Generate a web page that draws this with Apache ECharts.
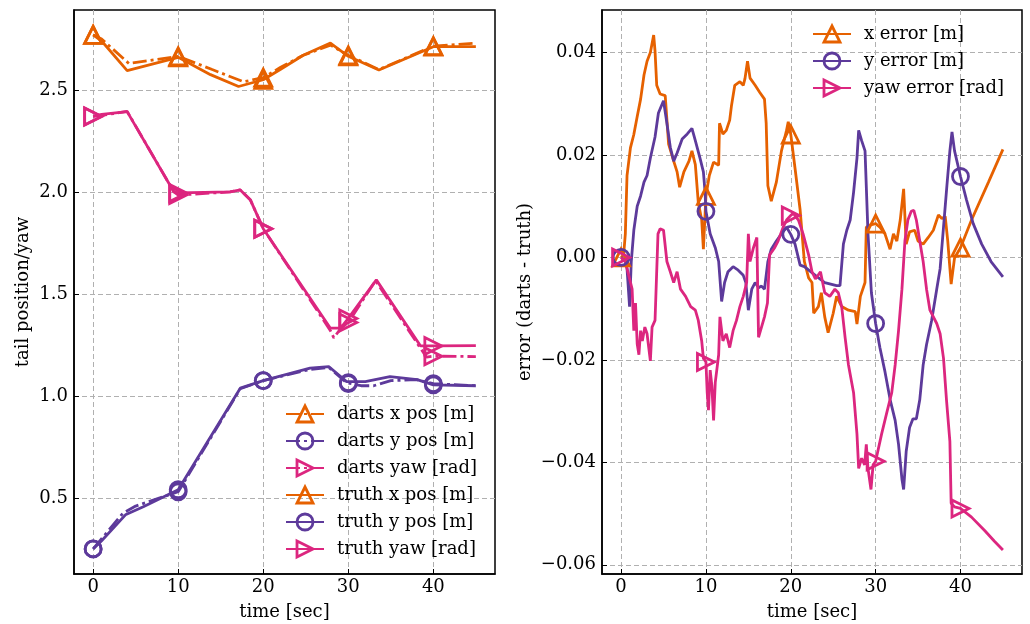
<!DOCTYPE html>
<html>
<head>
<meta charset="utf-8">
<script src="https://cdn.jsdelivr.net/npm/echarts@6/dist/echarts.min.js"></script>
<style>
  html, body { margin: 0; padding: 0; background: #fff; }
  #chart { width: 1030px; height: 624px; }
</style>
</head>
<body>
<div id="chart"></div>
<script>
// left panel: tail position / yaw, [time, value]
const dartsX = [[0, 2.77], [1, 2.75], [4.2, 2.63], [10, 2.665], [14, 2.6], [17.7, 2.54], [20, 2.56], [22, 2.61], [24.7, 2.67], [27.9, 2.72], [30, 2.67], [33.6, 2.6], [40, 2.715], [45, 2.73]]
const dartsY = [[0, 0.25], [1, 0.3], [3.5, 0.425], [5, 0.46], [10, 0.53], [17.3, 1.035], [20, 1.075], [25.5, 1.13], [27.7, 1.14], [29.8, 1.065], [30, 1.06], [31.5, 1.05], [33, 1.05], [35, 1.075], [38, 1.08], [40, 1.06], [45, 1.05]]
const dartsYaw = [[0, 2.37], [1, 2.375], [4, 2.395], [9.5, 2.0], [10, 1.985], [16.1, 2.0], [17.3, 2.01], [18.5, 1.96], [20, 1.82], [27.9, 1.32], [28.3, 1.285], [29.1, 1.33], [30, 1.36], [33.2, 1.565], [39.2, 1.19], [40, 1.195], [45, 1.193]]
const truthX = [[0, 2.77], [1, 2.74], [4, 2.595], [10, 2.66], [13.8, 2.575], [17.1, 2.517], [20, 2.55], [22, 2.6], [24.7, 2.67], [27.9, 2.73], [30, 2.665], [33.6, 2.598], [40, 2.712], [45, 2.712]]
const truthY = [[0, 0.25], [1, 0.29], [3.8, 0.417], [5.9, 0.457], [10, 0.54], [17.3, 1.038], [20, 1.075], [25.5, 1.136], [27.7, 1.144], [29.8, 1.07], [30, 1.065], [32, 1.07], [34.9, 1.095], [38.1, 1.08], [40, 1.054], [45, 1.05]]
const truthYaw = [[0, 2.37], [1, 2.38], [4, 2.394], [9.5, 2.0], [10, 1.995], [16.1, 2.0], [17.3, 2.01], [18.5, 1.96], [20, 1.82], [27.9, 1.332], [29.1, 1.332], [30, 1.38], [33.3, 1.569], [38.5, 1.245], [40, 1.245], [45, 1.247]]

// right panel: errors (darts - truth), [time, value]
const xErr = [[0, 0], [0.3, 0.0005], [0.5, 0.0046], [0.7, 0.016], [1.1, 0.0214], [1.5, 0.024], [1.9, 0.0275], [2.3, 0.0309], [2.7, 0.0356], [3.06, 0.0383], [3.45, 0.04], [3.84, 0.0434], [4.0, 0.0403], [4.2, 0.0336], [4.6, 0.0319], [5.2, 0.0316], [5.6, 0.0221], [6.2, 0.0188], [6.6, 0.0167], [6.9, 0.0137], [7.4, 0.0167], [8.0, 0.0188], [8.35, 0.0208], [8.75, 0.0181], [9.1, 0.0107], [9.5, 0.0073], [9.7, 0.0016], [10, 0.012], [10.4, 0.016], [10.9, 0.0186], [11.5, 0.018], [11.6, 0.0262], [12, 0.0241], [12.4, 0.0248], [12.8, 0.0268], [13, 0.0295], [13.4, 0.0336], [14, 0.0343], [14.4, 0.0336], [14.6, 0.0349], [14.9, 0.0383], [15.2, 0.035], [15.8, 0.0336], [16.35, 0.0322], [16.9, 0.0309], [17.1, 0.0262], [17.3, 0.014], [17.7, 0.011], [18.3, 0.0147], [18.9, 0.0208], [19.5, 0.0248], [19.7, 0.0265], [20, 0.024], [20.5, 0.0174], [21.1, 0.0093], [21.6, -0.0008], [22.1, -0.004], [22.5, -0.0049], [22.7, -0.0109], [23.25, -0.0096], [23.6, -0.0069], [24, -0.0116], [24.4, -0.0147], [25, -0.0109], [25.4, -0.0076], [26, -0.0096], [26.8, -0.0103], [27.6, -0.0106], [27.8, -0.013], [28.2, -0.0076], [28.75, -0.0049], [28.9, 0.0059], [29.3, 0.0063], [30, 0.0066], [30.5, 0.0059], [31.1, 0.0046], [31.7, 0.0016], [32.1, 0.0046], [32.5, 0.0032], [32.9, 0.0073], [33.3, 0.0134], [33.6, 0.0026], [34, 0.005], [34.6, 0.0053], [35, 0.0032], [35.6, 0.0026], [36.2, 0.0039], [36.8, 0.0053], [37.4, 0.0083], [37.8, 0.0076], [38.2, 0.008], [38.5, 0.0032], [38.9, -0.0052], [39.3, -0.0001], [40, 0.0019], [41.3, 0.0073], [43.3, 0.0147], [45, 0.0211]]
const yErr = [[0, 0], [0.5, -0.0005], [0.7, -0.0022], [1.0, -0.0096], [1.2, -0.0008], [1.5, 0.0053], [1.9, 0.01], [2.3, 0.012], [2.7, 0.0147], [3.06, 0.016], [3.45, 0.0194], [4.0, 0.0235], [4.4, 0.0282], [5.0, 0.0306], [5.4, 0.0262], [5.8, 0.0215], [6.2, 0.0188], [6.6, 0.0204], [7.2, 0.0231], [7.8, 0.0241], [8.35, 0.0252], [8.75, 0.0228], [9.3, 0.0194], [9.7, 0.0167], [9.9, 0.0127], [10, 0.009], [10.5, 0.0046], [11.1, 0.0019], [11.5, -0.0008], [11.85, -0.0086], [12.2, -0.0049], [12.6, -0.0028], [13.2, -0.0018], [13.8, -0.0025], [14.4, -0.0035], [14.7, -0.0049], [15, -0.0103], [15.4, -0.0062], [15.8, -0.0049], [16.2, -0.0059], [16.55, -0.0056], [16.9, -0.0062], [17.3, -0.0008], [17.7, 0.0016], [18.3, 0.0032], [18.9, 0.0046], [19.5, 0.0059], [20, 0.0045], [20.5, 0.0026], [21.1, -0.0015], [21.6, -0.0018], [22.9, -0.0035], [24, -0.0049], [25.4, -0.0055], [25.8, -0.0055], [26.2, 0.0026], [26.6, 0.0053], [27, 0.0073], [27.4, 0.0127], [27.8, 0.0194], [28, 0.0248], [28.35, 0.0228], [28.75, 0.0208], [29.1, 0.0046], [29.5, -0.0069], [30, -0.0129], [30.5, -0.0176], [31.1, -0.0223], [31.7, -0.0277], [32.3, -0.0318], [32.7, -0.0365], [33.1, -0.0433], [33.3, -0.0453], [33.6, -0.0379], [34, -0.0332], [34.4, -0.0315], [34.8, -0.0315], [35.2, -0.0278], [35.6, -0.021], [36, -0.017], [36.6, -0.0123], [37.2, -0.0062], [37.6, -0.0022], [38, 0.0059], [38.4, 0.014], [38.75, 0.0208], [39, 0.0245], [39.3, 0.0208], [40, 0.0158], [40.7, 0.0113], [41.5, 0.0066], [42.5, 0.0026], [43.6, -0.0008], [45, -0.0038]]
const yawErr = [[0, 0], [0.5, -0.0008], [0.9, -0.0035], [1.3, -0.0062], [1.5, -0.0143], [1.7, -0.0089], [1.9, -0.0169], [2.1, -0.019], [2.3, -0.0143], [2.5, -0.0163], [2.8, -0.0136], [3.06, -0.0149], [3.45, -0.0202], [3.65, -0.0136], [4.0, -0.0123], [4.35, 0.0046], [4.6, 0.0056], [5.0, 0.0053], [5.4, -0.0008], [5.8, -0.0028], [6.2, -0.0049], [6.6, -0.0028], [7.0, -0.0062], [7.6, -0.0076], [8.2, -0.0096], [8.75, -0.0103], [9.1, -0.0123], [9.5, -0.0163], [9.7, -0.0197], [10, -0.0204], [10.15, -0.0264], [10.3, -0.0298], [10.5, -0.022], [10.7, -0.0251], [10.9, -0.0318], [11.1, -0.0244], [11.5, -0.019], [11.65, -0.0116], [12, -0.0163], [12.4, -0.0149], [12.8, -0.0176], [13.2, -0.0143], [13.6, -0.0123], [14, -0.0096], [14.4, -0.0076], [14.8, -0.0049], [15, 0.0046], [15.2, -0.0008], [15.6, 0.0019], [16, 0.0039], [16.2, -0.0156], [16.55, -0.0136], [16.9, -0.0116], [17.25, -0.0089], [17.5, 0.0005], [18.1, 0.0019], [18.5, 0.0032], [19.1, 0.0059], [19.5, 0.0073], [20, 0.0082], [20.3, 0.0086], [20.9, 0.0073], [21.45, 0.0046], [22.1, 0.0005], [22.5, -0.0028], [22.9, -0.0042], [23.5, -0.0028], [24, -0.0069], [24.6, -0.0076], [25.2, -0.0062], [25.6, -0.0069], [26, -0.0096], [26.4, -0.0156], [26.8, -0.021], [27.4, -0.0264], [27.8, -0.0345], [28, -0.0412], [28.35, -0.0392], [28.7, -0.0405], [28.9, -0.0365], [29.1, -0.0412], [29.45, -0.0453], [29.7, -0.0405], [30, -0.0398], [30.7, -0.0345], [31.3, -0.0304], [31.9, -0.0264], [32.3, -0.021], [32.7, -0.0143], [33.1, -0.0062], [33.45, 0.0032], [33.8, 0.0073], [34.2, 0.009], [34.5, 0.0092], [34.8, 0.0073], [35.2, 0.0032], [35.6, -0.0008], [36, -0.0062], [36.4, -0.0103], [37.2, -0.0129], [37.6, -0.0149], [38, -0.0197], [38.35, -0.0278], [38.75, -0.0359], [38.9, -0.048], [39.3, -0.0487], [40, -0.049], [41.3, -0.0507], [42.9, -0.0534], [44, -0.0554], [45, -0.0571]]

const timeTicks = [0, 10, 20, 30, 40]
const posTicks = [0.5, 1.0, 1.5, 2.0, 2.5]
const errTicks = [-0.06, -0.04, -0.02, 0.0, 0.02, 0.04]

const ORANGE = '#E66100'
const PURPLE = '#5D3A9B'
const PINK = '#DC267F'
const FONT = 'DejaVu Serif'
const FSIZE = 18

// markers only at every 10 s, like markevery
function lineSeries (name, pts, color, sym, dashed, idx) {
  let shape = sym === 'circle' ? 'circle' : 'triangle'
  return {
    type: 'line',
    name: name,
    xAxisIndex: idx,
    yAxisIndex: idx,
    data: pts.map(p => timeTicks.indexOf(p[0]) >= 0 ? { value: p } : { value: p, symbol: 'none' }),
    symbol: shape,
    symbolSize: shape === 'circle' ? 16 : 17,
    symbolRotate: sym === 'right' ? -90 : 0,
    lineStyle: { color: color, width: 2.8, type: dashed ? [14, 4, 3, 4] : 'solid' },
    itemStyle: { color: 'rgba(0,0,0,0)', borderColor: color, borderWidth: 2.8 },
    emphasis: { disabled: true },
    silent: true,
    animation: false
  }
}

function timeAxis (idx) {
  return {
    type: 'value',
    gridIndex: idx,
    min: -2.25,
    max: 47.25,
    name: 'time [sec]',
    nameLocation: 'middle',
    nameGap: 29,
    nameTextStyle: { fontFamily: FONT, fontSize: FSIZE, color: '#000' },
    axisLine: { show: true, onZero: false, lineStyle: { color: '#000', width: 1.5 } },
    axisTick: { show: true, inside: true, length: 5, customValues: timeTicks, lineStyle: { color: '#000', width: 1 } },
    axisLabel: { customValues: timeTicks, fontFamily: FONT, fontSize: FSIZE, color: '#000', margin: 4 },
    splitLine: { show: true, lineStyle: { color: '#b0b0b0', width: 1, type: [5, 3] } }
  }
}

function valueAxis (idx, min, max, ticks, digits, name, gap) {
  return {
    type: 'value',
    gridIndex: idx,
    min: min,
    max: max,
    name: name,
    nameLocation: 'middle',
    nameGap: gap,
    nameTextStyle: { fontFamily: FONT, fontSize: FSIZE, color: '#000' },
    axisLine: { show: true, onZero: false, lineStyle: { color: '#000', width: 1.5 } },
    axisTick: { show: true, inside: true, length: 5, customValues: ticks, lineStyle: { color: '#000', width: 1 } },
    axisLabel: {
      customValues: ticks,
      fontFamily: FONT,
      fontSize: FSIZE,
      color: '#000',
      margin: 6,
      formatter: v => v.toFixed(digits).replace('-', '\u2212')
    },
    splitLine: { show: true, lineStyle: { color: '#b0b0b0', width: 1, type: [5, 3] } }
  }
}

function legend (left, top, names) {
  return {
    left: left,
    top: top,
    orient: 'vertical',
    data: names,
    itemWidth: 38,
    itemHeight: 20,
    itemGap: 7,
    selectedMode: false,
    itemStyle: { borderWidth: 2.8 },
    textStyle: { fontFamily: FONT, fontSize: FSIZE, lineHeight: 20, color: '#000', padding: [0, 0, 0, 8] }
  }
}

let myChart = echarts.init(document.getElementById('chart'), null, { renderer: 'canvas' })
myChart.setOption({
  backgroundColor: '#fff',
  animation: false,
  grid: [
    { left: 74, top: 10, width: 421, height: 564, outerBoundsMode: 'none', show: true, borderColor: '#000', borderWidth: 1.5, backgroundColor: 'transparent' },
    { left: 602, top: 10, width: 420, height: 564, outerBoundsMode: 'none', show: true, borderColor: '#000', borderWidth: 1.5, backgroundColor: 'transparent' }
  ],
  xAxis: [timeAxis(0), timeAxis(1)],
  yAxis: [
    valueAxis(0, 0.127, 2.892, posTicks, 1, 'tail position/yaw', 42),
    valueAxis(1, -0.0618, 0.0483, errTicks, 2, 'error (darts - truth)', 68)
  ],
  legend: [
    legend(280, 399, ['darts x pos [m]', 'darts y pos [m]', 'darts yaw [rad]', 'truth x pos [m]', 'truth y pos [m]', 'truth yaw [rad]']),
    legend(807, 19, ['x error [m]', 'y error [m]', 'yaw error [rad]'])
  ],
  series: [
    lineSeries('darts x pos [m]', dartsX, ORANGE, 'up', true, 0),
    lineSeries('darts y pos [m]', dartsY, PURPLE, 'circle', true, 0),
    lineSeries('darts yaw [rad]', dartsYaw, PINK, 'right', true, 0),
    lineSeries('truth x pos [m]', truthX, ORANGE, 'up', false, 0),
    lineSeries('truth y pos [m]', truthY, PURPLE, 'circle', false, 0),
    lineSeries('truth yaw [rad]', truthYaw, PINK, 'right', false, 0),
    lineSeries('x error [m]', xErr, ORANGE, 'up', false, 1),
    lineSeries('y error [m]', yErr, PURPLE, 'circle', false, 1),
    lineSeries('yaw error [rad]', yawErr, PINK, 'right', false, 1)
  ]
})
</script>
</body>
</html>
